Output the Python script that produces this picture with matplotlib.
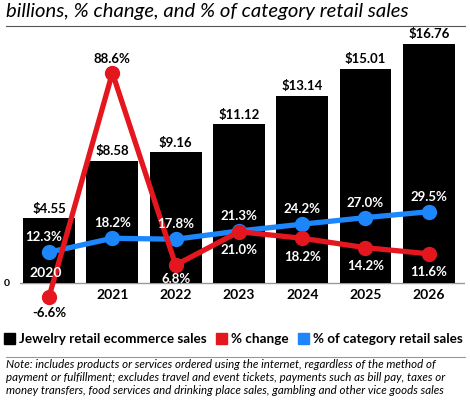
import matplotlib.pyplot as plt
from matplotlib.patches import Patch

plt.rcParams['font.family'] = ['Lato', 'DejaVu Sans']

# data
years = ['2020', '2021', '2022', '2023', '2024', '2025', '2026']
sales = [4.55, 8.58, 9.16, 11.12, 13.14, 15.01, 16.76]
pct_change = [-6.6, 88.6, 6.8, 21.0, 18.2, 14.2, 11.6]
pct_category = [12.3, 18.2, 17.8, 21.3, 24.2, 27.0, 29.5]

RED = '#e4161e'
BLUE = '#1d86fb'

fig = plt.figure(figsize=(4.7, 4.0), dpi=100)
ax = fig.add_axes([0.0426, 0.2125, 0.9464, 0.7125])
ax2 = ax.twinx()

x = list(range(len(years)))
ax.bar(x, sales, width=0.82, color='black', zorder=2)
ax.set_xlim(-0.46, 6.57)
ax.set_ylim(-2.24, 17.74)
ax2.set_ylim(-2.24 * 6.07 - 0.85, 17.74 * 6.07 - 0.85)
ax.axhline(0, color='#999999', lw=1, zorder=1)

for a in (ax, ax2):
    for s in a.spines.values():
        s.set_visible(False)
    a.set_xticks([])
    a.set_yticks([])

ax.text(-0.62, 0, '0', ha='right', va='center', fontsize=7.5, fontweight='bold')

# bar labels and years
for i, v in enumerate(sales):
    ax.text(i, v + 0.25, f'${v:.2f}', ha='center', va='bottom', fontsize=9.5, fontweight='bold')
    if i == 0:
        # first year sits inside its bar, above the lines
        ax2.text(i - 0.06, 0.7 * 6.07 - 0.85, years[i], ha='center', va='center', fontsize=10,
                 fontweight='bold', color='white', zorder=7)
    else:
        ax.text(i, -0.85, years[i], ha='center', va='center', fontsize=10, fontweight='bold')

ax2.plot(x, pct_category, color=BLUE, lw=3.8, marker='o', ms=10, zorder=3)
ax2.plot(x, pct_change, color=RED, lw=3.8, marker='o', ms=10, zorder=4)

for i, v in enumerate(pct_category):
    ax2.text(i - (0.09 if i == 0 else 0), v + 6.3, f'{v:.1f}%', ha='center', va='center',
             fontsize=9.5, fontweight='bold', color='white', zorder=6)
for i, v in enumerate(pct_change):
    if i == 1:
        ax2.text(i, v + 6.0, f'{v:.1f}%', ha='center', va='center',
                 fontsize=9.5, fontweight='bold', color='black', zorder=6)
    elif i == 0:
        ax2.text(i, v - 6.8, f'{v:.1f}%', ha='center', va='center',
                 fontsize=9.5, fontweight='bold', color='black', zorder=6)
    else:
        off = 6.0 if i == 2 else 7.8
        ax2.text(i, v - off, f'{v:.1f}%', ha='center', va='center',
                 fontsize=9.5, fontweight='bold', color='white', zorder=6)

fig.text(0.013, 0.972, 'billions, % change, and % of category retail sales',
         ha='left', va='center', fontsize=14.6, style='italic')
fig.add_artist(plt.Line2D([0.013, 0.99], [0.935, 0.935], color='#555555', lw=0.8))

handles = [Patch(color='black'), Patch(color=RED), Patch(color=BLUE)]
labels = ['Jewelry retail ecommerce sales', '% change', '% of category retail sales']
fig.legend(handles, labels, loc='center left', bbox_to_anchor=(0.008, 0.152), ncol=3,
           frameon=False, handlelength=0.85, handleheight=0.85, handletextpad=0.3,
           columnspacing=0.65, borderpad=0, borderaxespad=0,
           prop={'weight': 'bold', 'size': 9.7})

fig.add_artist(plt.Line2D([0.013, 0.99], [0.107, 0.107], color='#999999', lw=0.8))
note = ('Note: includes products or services ordered using the internet, regardless of the method of\n'
        'payment or fulfillment; excludes travel and event tickets, payments such as bill pay, taxes or\n'
        'money transfers, food services and drinking place sales, gambling and other vice goods sales')
fig.text(0.013, 0.056, note, ha='left', va='center', fontsize=8.3, style='italic',
         linespacing=1.2)

fig.savefig('out.png', dpi=100)
